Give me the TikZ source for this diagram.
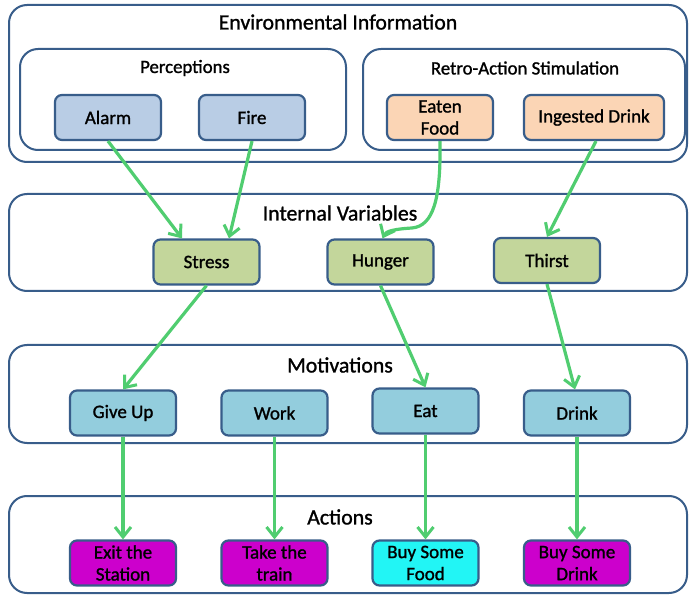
\documentclass[tikz,border=0pt]{standalone}
\usepackage{fontspec}
\setmainfont{Carlito}[FakeBold=1.2]
\usetikzlibrary{arrows.meta}
\definecolor{bord}{RGB}{56,93,138}
\definecolor{percfill}{RGB}{185,205,229}
\definecolor{retrofill}{RGB}{251,213,181}
\definecolor{varfill}{RGB}{195,214,155}
\definecolor{motfill}{RGB}{147,205,221}
\definecolor{actfill}{RGB}{204,0,204}
\definecolor{cyanfill}{RGB}{34,245,245}
\definecolor{arrowgreen}{RGB}{80,205,112}
\begin{document}
\begin{tikzpicture}[x=1pt,y=-1pt,
  grp/.style={draw=bord, line width=2pt, fill=white, rounded corners=18pt, inner sep=0pt},
  box/.style={draw=bord, line width=2.2pt, rounded corners=7pt, minimum width=106pt, minimum height=45pt,
    inner sep=0pt, align=center, font=\fontsize{19}{22}\selectfont},
  bigtitle/.style={font=\fontsize{21.8}{24}\selectfont},
  subtitle/.style={font=\fontsize{18.8}{20}\selectfont},
  conn/.style={draw=arrowgreen, line width=3.2pt, -{Straight Barb[length=10pt,width=16pt,line width=3pt]}}
]
\useasboundingbox (0,0) rectangle (689,596);

% group boxes
\node[grp, minimum width=678pt, minimum height=157pt] (env) at (348,83.5) {};
\node[grp, minimum width=326pt, minimum height=101pt] (perc) at (183,99.5) {};
\node[grp, minimum width=322pt, minimum height=101pt] (retro) at (524,99.5) {};
\node[grp, minimum width=678pt, minimum height=97pt] (iv) at (348,242.5) {};
\node[grp, minimum width=678pt, minimum height=98pt] (mot) at (348,394) {};
\node[grp, minimum width=678pt, minimum height=97pt] (act) at (348,544.5) {};

% titles
\node[bigtitle] (tenv) at (338,22) {Environmental Information};
\node[subtitle] (tperc) at (185,68) {Perceptions};
\node[subtitle] (tretro) at (525,68) {Retro-Action Stimulation};
\node[bigtitle] (tiv) at (340,213) {Internal Variables};
\node[bigtitle] (tmot) at (340,365) {Motivations};
\node[bigtitle] (tact) at (340,517) {Actions};

% perceptions / retro
\node[box, fill=percfill] (alarm) at (108,117.5) {Alarm};
\node[box, fill=percfill] (fire) at (252,117.5) {Fire};
\node[box, fill=retrofill] (eaten) at (440,117.5) {Eaten\\Food};
\node[box, fill=retrofill, minimum width=140pt] (ingested) at (594,117.5) {Ingested Drink};

% internal variables
\node[box, fill=varfill] (stress) at (206.5,262) {Stress};
\node[box, fill=varfill] (hunger) at (380.5,262) {Hunger};
\node[box, fill=varfill] (thirst) at (547,260.5) {Thirst};

% motivations
\node[box, fill=motfill] (giveup) at (123,413) {Give Up};
\node[box, fill=motfill] (work) at (274.5,413) {Work};
\node[box, fill=motfill] (eat) at (425.5,411) {Eat};
\node[box, fill=motfill] (drink) at (577,413) {Drink};

% actions
\node[box, fill=actfill] (exit) at (123,563) {Exit the\\Station};
\node[box, fill=actfill] (take) at (274.5,563) {Take the\\train};
\node[box, fill=cyanfill] (buyfood) at (425.5,563) {Buy Some\\Food};
\node[box, fill=actfill] (buydrink) at (577,563) {Buy Some\\Drink};

% connectors
\draw[conn] (alarm.south) -- ([xshift=-24.5pt]stress.north);
\draw[conn] (fire.south) -- ([xshift=22.5pt]stress.north);
\draw[conn] (eaten.south) .. controls (441,200) and (433,226) .. (412,228)
  .. controls (395,229) and (386,231) .. ([xshift=2pt]hunger.north);
\draw[conn] ([xshift=2pt]ingested.south) -- (thirst.north);
\draw[conn] (stress.south) -- (giveup.north);
\draw[conn] (hunger.south) -- (eat.north);
\draw[conn] (thirst.south) -- ([xshift=-2pt]drink.north);
\draw[conn] (giveup.south) -- (exit.north);
\draw[conn] (work.south) -- (take.north);
\draw[conn] (eat.south) -- (buyfood.north);
\draw[conn] (drink.south) -- (buydrink.north);
\end{tikzpicture}
\end{document}
